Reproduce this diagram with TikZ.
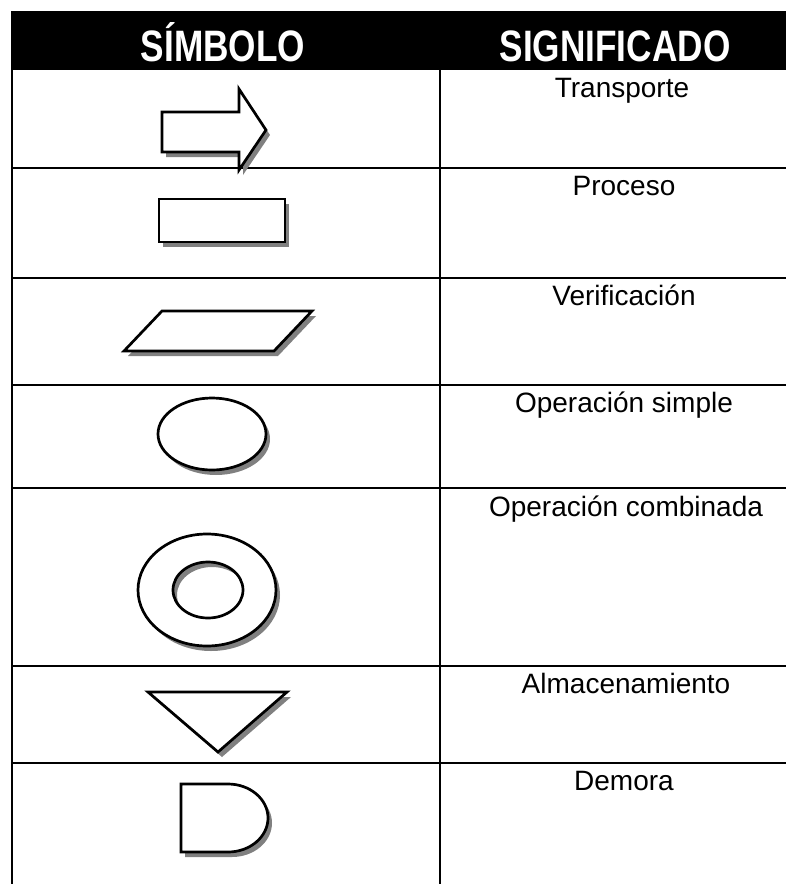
\documentclass[tikz,border=0pt]{standalone}
\usepackage{fontspec}
\usepackage{tikz}
\setmainfont{Liberation Sans}
\newfontfamily\headfont[FakeStretch=0.8]{Liberation Sans}
\definecolor{shadowgray}{RGB}{128, 128, 128}

\begin{document}
\begin{tikzpicture}[x=1pt, y=-1pt,
  rule/.style={line width=2.6pt},
  symbol/.style={fill=white, draw=black, line width=2.7pt, line join=miter},
  symshadow/.style={fill=shadowgray, shift={(4,5)}},
  header/.style={font=\headfont\bfseries\fontsize{44}{50}\selectfont, text=white, anchor=base},
  meaning/.style={font=\fontsize{28}{33}\selectfont, anchor=base}]
\useasboundingbox (0,0) rectangle (786,884);

% Header band
\fill[black] (11,11) rectangle (786,70);
\node[header] (hdsymbol) at (223,61) {SÍMBOLO};
\node[header] (hdmeaning) at (615,61) {SIGNIFICADO};

% Table rules
\draw[rule] (12,70) -- (12,884);
\draw[rule] (440,70) -- (440,884);
\foreach \y in {168,278,385,488,666,763}
  \draw[rule] (12,\y) -- (786,\y);

% Meanings
\node[meaning] (mtransport) at (622,97) {Transporte};
\node[meaning] (mprocess) at (624,195) {Proceso};
\node[meaning] (mcheck) at (624,305) {Verificación};
\node[meaning] (msimple) at (624,412) {Operación simple};
\node[meaning] (mcombined) at (626,516) {Operación combinada};
\node[meaning] (mstorage) at (626,693) {Almacenamiento};
\node[meaning] (mdelay) at (624,790) {Demora};

% Transporte
\fill[symshadow] (162,112) -- (239,112) -- (239,89) -- (266,130) -- (239,170) -- (239,152) -- (162,152) -- cycle;
\filldraw[symbol] (162,112) -- (239,112) -- (239,89) -- (266,130) -- (239,170) -- (239,152) -- (162,152) -- cycle;

% Proceso
\fill[symshadow] (159,199) rectangle (285,242);
\filldraw[symbol] (159,199) rectangle (285,242);

% Verificacion
\fill[symshadow] (124,351) -- (162,311) -- (312,311) -- (274,351) -- cycle;
\filldraw[symbol] (124,351) -- (162,311) -- (312,311) -- (274,351) -- cycle;

% Operacion simple
\fill[symshadow] (212,434) ellipse [x radius=54, y radius=36];
\filldraw[symbol] (212,434) ellipse [x radius=54, y radius=36];

% Operacion combinada
\fill[symshadow, even odd rule] (207,590) ellipse [x radius=69, y radius=56]
  (208,590) ellipse [x radius=35, y radius=28];
\filldraw[symbol, even odd rule] (207,590) ellipse [x radius=69, y radius=56]
  (208,590) ellipse [x radius=35, y radius=28];

% Almacenamiento
\fill[symshadow] (148,692) -- (287,692) -- (218,752) -- cycle;
\filldraw[symbol] (148,692) -- (287,692) -- (218,752) -- cycle;

% Demora
\fill[symshadow] (181,784) -- (228,784) arc[start angle=-90, end angle=90, x radius=40, y radius=34] -- (181,852) -- cycle;
\filldraw[symbol] (181,784) -- (228,784) arc[start angle=-90, end angle=90, x radius=40, y radius=34] -- (181,852) -- cycle;
\end{tikzpicture}
\end{document}
